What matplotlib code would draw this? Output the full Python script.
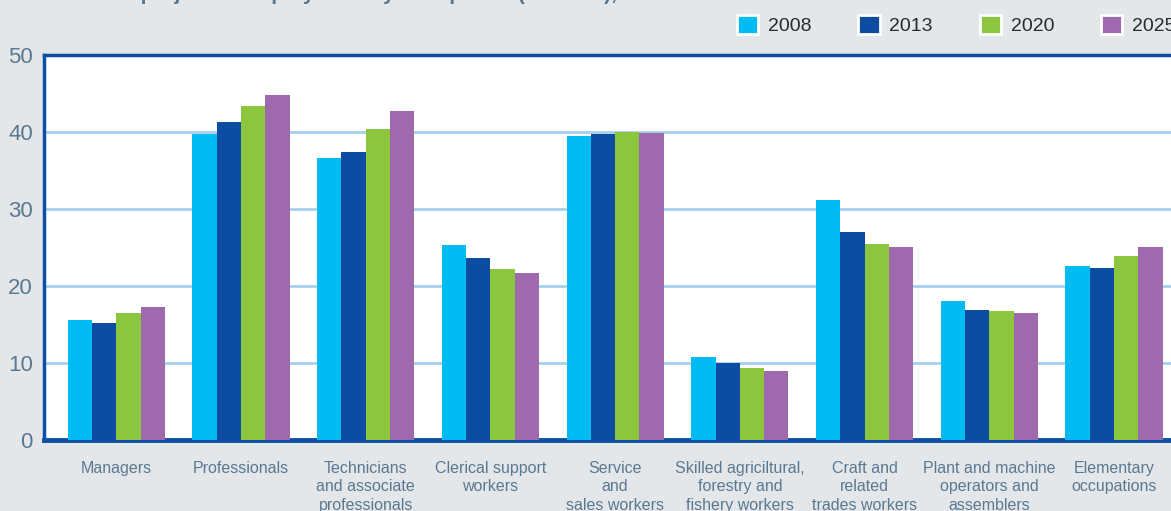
import numpy as np
from matplotlib import pyplot as plt
from matplotlib.patches import Patch

# employment by occupation, millions
occupations = ['Managers', 'Professionals', 'Technicians\nand associate\nprofessionals',
	'Clerical support\nworkers', 'Service\nand\nsales workers',
	'Skilled agriciltural,\nforestry and\nfishery workers', 'Craft and\nrelated\ntrades workers',
	'Plant and machine\noperators and\nassemblers', 'Elementary\noccupations']
years = ['2008', '2013', '2020', '2025']
y2008 = [15.6, 39.7, 36.6, 25.3, 39.5, 10.8, 31.2, 18.1, 22.6]
y2013 = [15.2, 41.3, 37.4, 23.7, 39.7, 10.0, 27.0, 16.9, 22.4]
y2020 = [16.5, 43.4, 40.4, 22.2, 40.0, 9.3, 25.5, 16.7, 23.9]
y2025 = [17.3, 44.8, 42.7, 21.7, 39.9, 9.0, 25.1, 16.5, 25.1]
yticks = [0, 10, 20, 30, 40, 50]

colors = ['#00bcf2', '#0c4da2', '#8cc63f', '#9e69ad']
bg = '#e3e7ea'
label_col = '#5b7891'

plt.rcParams['font.family'] = ['Liberation Sans', 'DejaVu Sans']

fig = plt.figure(figsize=(11.71, 5.11), dpi=100, facecolor=bg)
W, H = 1171., 511.
ax = fig.add_axes([44/W, (H-440)/H, (1195-44)/W, (440-55)/H])
ax.set_facecolor('white')

x = np.arange(len(occupations))
bw = 0.195
series = [y2008, y2013, y2020, y2025]
for i, vals in enumerate(series):
	ax.bar(x + (i - 1.5)*bw, vals, bw, color=colors[i], zorder=3)

ax.set_xlim(-0.58, 8.65)
ax.set_ylim(0, 50)
ax.set_yticks(yticks)
ax.set_yticklabels([str(t) for t in yticks], fontsize=16, color=label_col)
ax.set_xticks(x)
ax.set_xticklabels(occupations, fontsize=11.5, color=label_col, linespacing=1.28)
ax.tick_params(axis='both', length=0)
ax.tick_params(axis='x', pad=15)
ax.tick_params(axis='y', pad=8)
ax.yaxis.grid(True, color='#a5cfec', linewidth=2)
ax.set_axisbelow(True)

for s in ['left', 'top', 'bottom']:
	ax.spines[s].set_color('#0d4fa3')
	ax.spines[s].set_linewidth(2.5)
ax.spines['bottom'].set_linewidth(3.5)
ax.spines['right'].set_visible(False)

# title is cut off at the top of the picture
fig.text(48/W, 1.0, 'Past and projected employment by occupation (millions), EU-28',
	fontsize=15, weight='bold', color=label_col, va='baseline')

handles = [Patch(facecolor=colors[i], edgecolor='white', linewidth=2, label=years[i]) for i in range(4)]
fig.legend(handles=handles, loc='center left', bbox_to_anchor=(737/W, 1 - 25/H), ncol=4,
	frameon=False, fontsize=14, handlelength=1.1, handleheight=1.1, handletextpad=0.5,
	columnspacing=2.4, borderpad=0, borderaxespad=0, labelcolor='#2a2a2a')

plt.savefig('out.png', dpi=100, facecolor=bg)
